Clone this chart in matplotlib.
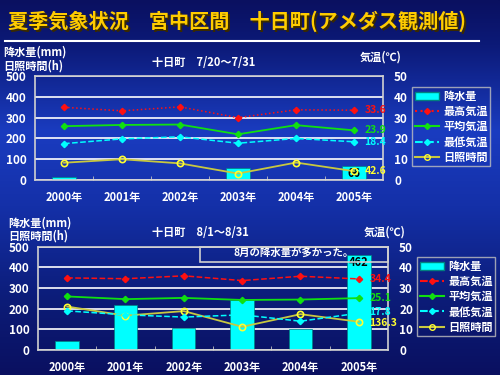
import numpy as np
import matplotlib.pyplot as plt
from matplotlib.colors import LinearSegmentedColormap
from matplotlib.lines import Line2D
from matplotlib.patches import Patch

plt.rcParams['font.family'] = ['Noto Sans CJK JP', 'DejaVu Sans']
plt.rcParams['font.weight'] = 'bold'

years = ['2000年', '2001年', '2002年', '2003年', '2004年', '2005年']

# 7/20～7/31
rain_jul = [15, 0, 0, 60, 0, 66]
tmax_jul = [35.0, 33.3, 35.2, 30.0, 33.8, 33.6]
tavg_jul = [25.9, 26.5, 26.7, 22.0, 26.4, 23.9]
tmin_jul = [17.5, 19.8, 20.8, 17.7, 20.0, 18.4]
sun_jul = [83, 100, 80, 31, 84, 42.6]

# 8/1～8/31
rain_aug = [45, 216, 108, 242, 100, 462]
tmax_aug = [34.9, 34.5, 35.9, 33.6, 35.7, 34.4]
tavg_aug = [25.9, 24.6, 25.2, 24.2, 24.4, 25.1]
tmin_aug = [18.9, 17.0, 15.9, 17.0, 13.9, 17.8]
sun_aug = [210, 166, 188, 112, 173, 136.3]

WHITE = '#ffffff'
RED = '#ff1010'
GREEN = '#10e010'
CYAN = '#00ffff'
YEL = '#ffff30'
SUNLINE = '#c8c840'

fig = plt.figure(figsize=(5, 3.75), dpi=100)

# background gradient
bg = fig.add_axes([0, 0, 1, 1], zorder=-10)
cmap = LinearSegmentedColormap.from_list('bg', [
    (0.0, '#0a1060'), (0.12, '#0c1a78'), (0.35, '#1a3cc0'),
    (0.55, '#1430a8'), (0.8, '#0c1c78'), (1.0, '#0a1060')])
bg.imshow(np.linspace(0, 1, 256).reshape(-1, 1), aspect='auto', cmap=cmap,
          extent=[0, 1, 0, 1])
bg.axis('off')

title = '夏季気象状況\u3000宮中区間\u3000十日町(アメダス観測値)'
fig.text(0.019, 0.938, title, color='#3a2a00', fontsize=14.5, va='center')
fig.text(0.015, 0.943, title, color='#ffcc00', fontsize=14.5, va='center')
fig.add_artist(Line2D([0.01, 0.958], [0.892, 0.892], color=WHITE, lw=1.5))


def panel(rect, rain, tmax, tavg, tmin, sun, maxstyle, nudge):
    ax = fig.add_axes(rect)
    ax.set_facecolor('none')
    x = np.arange(len(years))
    ax.bar(x, rain, width=0.4, color=CYAN, edgecolor='#008080', lw=0.5, zorder=2)
    ax.plot(x, sun, color=SUNLINE, lw=1.3, marker='o', ms=4.5, mfc='none',
            mec=YEL, mew=1.2, zorder=4)
    ax.set_ylim(0, 500)
    ax.set_xlim(-0.5, 5.5)
    ax.set_yticks(range(0, 501, 100))
    ax.grid(axis='y', color=WHITE, lw=1.2, zorder=1)
    ax.set_axisbelow(True)
    ax.set_xticks(x)
    ax.set_xticklabels(years)
    ax.set_xticks(np.arange(0.5, 5, 1), minor=True)
    ax.tick_params(axis='x', which='major', length=0, pad=8, colors=WHITE, labelsize=8)
    ax.tick_params(axis='x', which='minor', length=3, direction='in', color='#c0c0c0')
    ax.tick_params(axis='y', length=0, colors=WHITE, labelsize=8.5, pad=6)
    for s in ax.spines.values():
        s.set_color('#d0d0d0')
        s.set_linewidth(1.2)

    ax2 = ax.twinx()
    ax2.set_ylim(0, 50)
    ax2.set_yticks(range(0, 51, 10))
    ax2.tick_params(axis='y', length=0, colors=WHITE, labelsize=8.5, pad=8)
    for s in ax2.spines.values():
        s.set_visible(False)
    ax2.plot(x, tmax, color=RED, ls=maxstyle, lw=1.1, marker='D', ms=3.2, zorder=4)
    ax2.plot(x, tavg, color=GREEN, ls='-', lw=1.3, marker='D', ms=3.2, zorder=4)
    ax2.plot(x, tmin, color=CYAN, ls='--', lw=1.1, marker='D', ms=3.2, zorder=4)

    # value labels at last year
    ax2.text(5.18, tmax[-1], f'{tmax[-1]}', color=RED, fontsize=7.5, va='center')
    ax2.text(5.18, tavg[-1], f'{tavg[-1]}', color=GREEN, fontsize=7.5, va='center')
    ax2.text(5.18, tmin[-1] + nudge, f'{tmin[-1]}', color=CYAN, fontsize=7.5, va='center')
    ax.text(5.18, sun[-1] - nudge * 12, f'{sun[-1]}', color=YEL, fontsize=7.5, va='center')

    handles = [Patch(facecolor=CYAN, edgecolor='#008080'),
               Line2D([], [], color=RED, ls=maxstyle, marker='D', ms=3),
               Line2D([], [], color=GREEN, marker='D', ms=3),
               Line2D([], [], color=CYAN, ls='--', marker='D', ms=3),
               Line2D([], [], color=SUNLINE, marker='o', ms=4, mfc='none', mec=YEL)]
    labels = ['降水量', '最高気温', '平均気温', '最低気温', '日照時間']
    return ax, ax2, handles, labels


def add_legend(h, l, anchor):
    leg = fig.legend(h, l, loc='upper left', bbox_to_anchor=anchor,
                     frameon=True, fontsize=8, handlelength=2.2, borderpad=0.25,
                     labelspacing=0.2, handletextpad=0.35, fancybox=False,
                     borderaxespad=0)
    leg.get_frame().set_facecolor('none')
    leg.get_frame().set_edgecolor('#c0c0c0')
    for t in leg.get_texts():
        t.set_color(WHITE)


# upper panel
ax, ax2, h, l = panel([0.07, 0.52, 0.696, 0.277], rain_jul, tmax_jul, tavg_jul,
                      tmin_jul, sun_jul, ':', 0)
ax.text(5, 0, f'{rain_jul[-1]}', color='black', fontsize=8, ha='center', va='bottom')
fig.text(0.006, 0.861, '降水量(mm)', color=WHITE, fontsize=8, va='center')
fig.text(0.006, 0.824, '日照時間(h)', color=WHITE, fontsize=8, va='center')
fig.text(0.305, 0.832, '十日町　7/20～7/31', color=WHITE, fontsize=8, va='center')
fig.text(0.72, 0.847, '気温(℃)', color=WHITE, fontsize=8, va='center')
add_legend(h, l, (0.824, 0.768))

# lower panel
ax, ax2, h, l = panel([0.076, 0.067, 0.7, 0.275], rain_aug, tmax_aug, tavg_aug,
                      tmin_aug, sun_aug, '--', 0.6)
ax.text(5, rain_aug[-1] - 5, f'{rain_aug[-1]}', color='black', fontsize=8,
        ha='center', va='top', zorder=5)
fig.text(0.016, 0.405, '降水量(mm)', color=WHITE, fontsize=8, va='center')
fig.text(0.016, 0.371, '日照時間(h)', color=WHITE, fontsize=8, va='center')
fig.text(0.305, 0.379, '十日町　8/1～8/31', color=WHITE, fontsize=8, va='center')
fig.text(0.728, 0.381, '気温(℃)', color=WHITE, fontsize=8, va='center')
fig.text(0.588, 0.325, '8月の降水量が多かった。', color=WHITE, fontsize=7.5,
         ha='center', va='center', zorder=5)
fig.add_artist(plt.Rectangle((0.4, 0.302), 0.376, 0.04, fill=False,
                             edgecolor='#d0d0d0', lw=1.2))
add_legend(h, l, (0.834, 0.315))

fig.savefig('out.png', dpi=100)
